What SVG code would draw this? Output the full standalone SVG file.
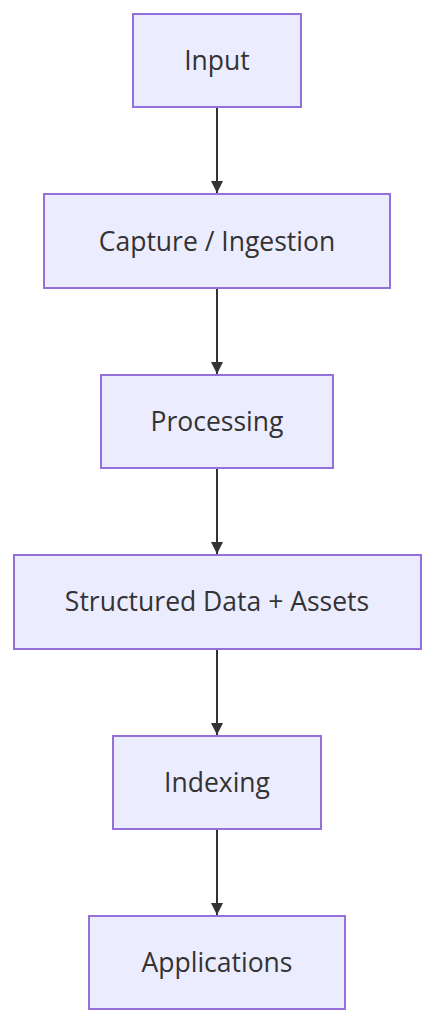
<svg xmlns="http://www.w3.org/2000/svg" width="435" height="1024" viewBox="0 0 435 1024">
<style>
.node rect{fill:#ECECFF;stroke:#9370DB;stroke-width:2}
.node text{font-family:"Open Sans","DejaVu Sans",sans-serif;font-size:26.5px;fill:#333;text-anchor:middle}
.edges path{stroke:#333;stroke-width:2;fill:none}
</style>
<defs>
<marker id="arrow" viewBox="0 0 10 10" refX="10" refY="5" markerWidth="6" markerHeight="6" markerUnits="strokeWidth" orient="auto">
<path d="M0,0 L10,5 L0,10 z" fill="#333" stroke="none"/>
</marker>
</defs>
<rect width="435" height="1024" fill="#fff"/>
<g class="edges">
<path d="M217,107 L217,193" marker-end="url(#arrow)"/>
<path d="M217,288 L217,374" marker-end="url(#arrow)"/>
<path d="M217,468 L217,554" marker-end="url(#arrow)"/>
<path d="M217,649 L217,735" marker-end="url(#arrow)"/>
<path d="M217,829 L217,915" marker-end="url(#arrow)"/>
</g>
<g id="input" class="node"><rect x="133" y="14" width="168" height="93"/><text x="217" y="70">Input</text></g>
<g id="capture" class="node"><rect x="44" y="194" width="346" height="94"/><text x="217" y="250.5">Capture / Ingestion</text></g>
<g id="processing" class="node"><rect x="101" y="375" width="232" height="93"/><text x="217" y="431">Processing</text></g>
<g id="structured" class="node"><rect x="14" y="555" width="407" height="94"/><text x="217" y="611">Structured Data + Assets</text></g>
<g id="indexing" class="node"><rect x="113" y="736" width="208" height="93"/><text x="217" y="792">Indexing</text></g>
<g id="applications" class="node"><rect x="89" y="916" width="256" height="93"/><text x="217" y="972">Applications</text></g>
</svg>
